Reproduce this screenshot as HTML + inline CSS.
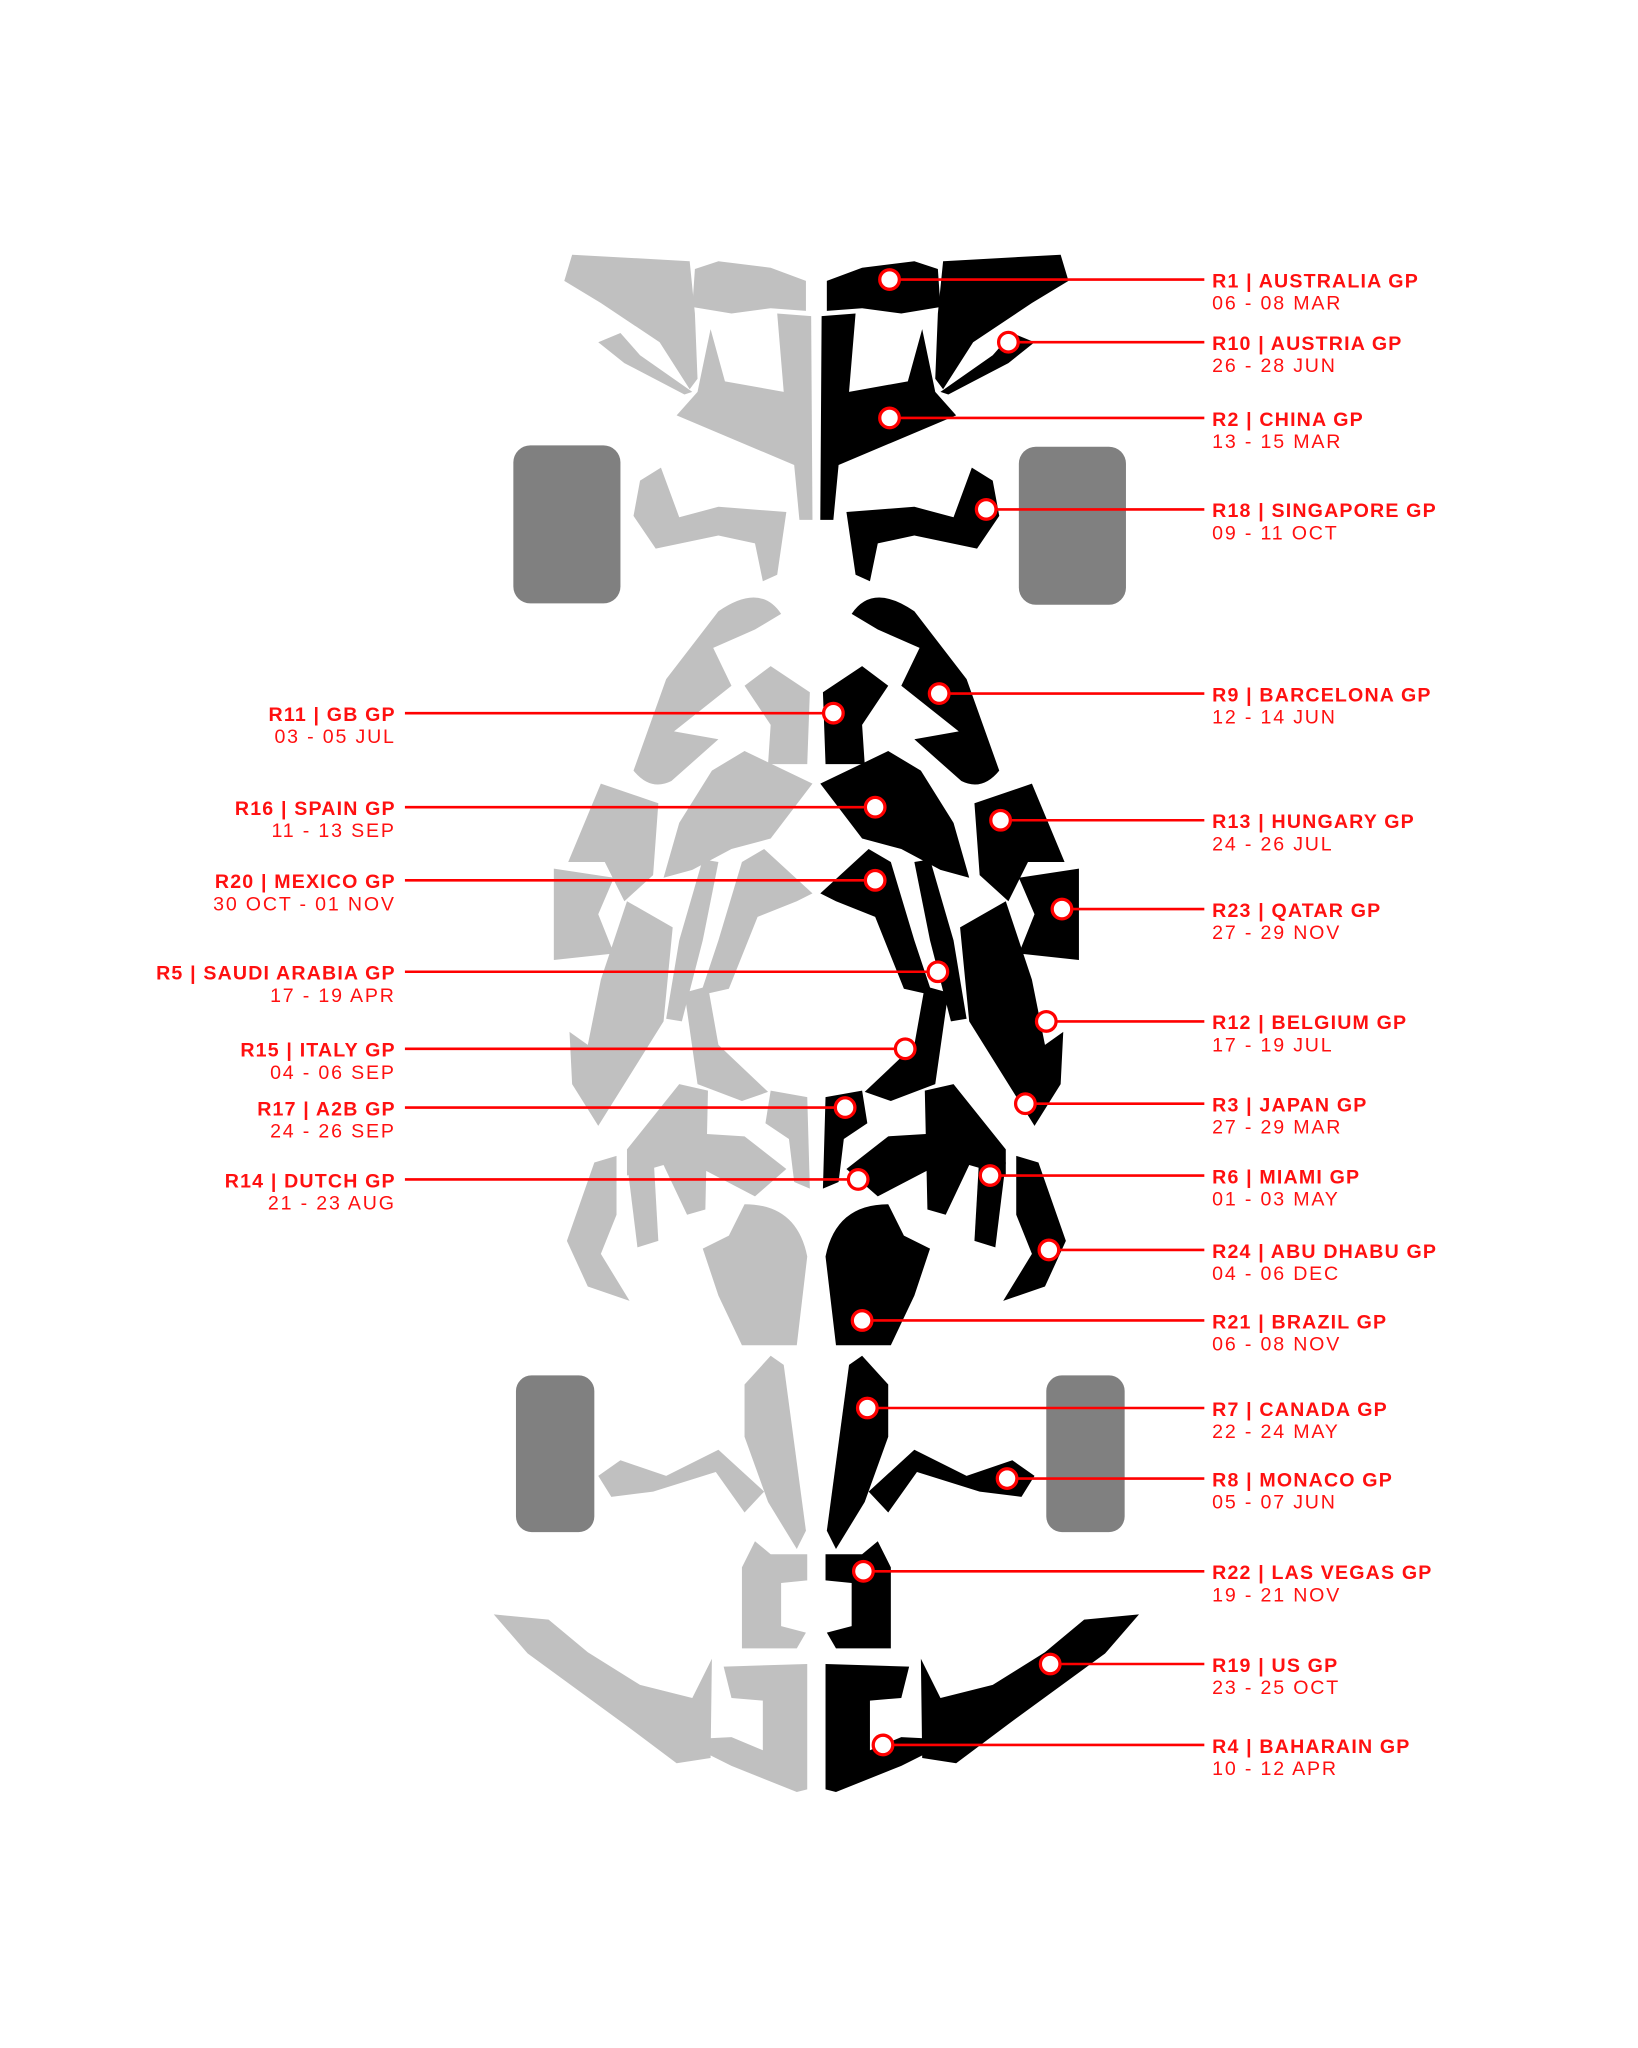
<!DOCTYPE html>
<html><head><meta charset="utf-8"><style>
html,body{margin:0;padding:0;background:#fff;}
svg{display:block;}
text{font-family:"Liberation Sans",sans-serif;fill:#ff1010;font-size:15px;letter-spacing:1.4px;}
.b{font-weight:bold;letter-spacing:0.9px;}
</style></head><body>
<svg width="1638" height="2048" viewBox="0 0 1254 1568" preserveAspectRatio="none" xmlns="http://www.w3.org/2000/svg">
<rect width="1254" height="1568" fill="#fff"/>
<g fill="#808080">
<rect x="393" y="341" width="82" height="121" rx="13"/>
<rect x="780" y="342" width="82" height="121" rx="13"/>
<rect x="395" y="1053" width="60" height="120" rx="12"/>
<rect x="801" y="1053" width="60" height="120" rx="12"/>
</g>
<defs>
<g id="car">
<path d="M633,215 L660,205 L700,200 L718,206 L720,235 L690,240 L660,236 L633,238 Z"/>
<path d="M722,200 L812,195 L818,215 L790,232 L745,262 L722,298 L716,290 L718,240 Z"/>
<path d="M720,300 L760,272 L775,255 L792,262 L772,278 L726,302 Z"/>
<path d="M629,242 L655,240 L650,300 L695,292 L706,252 L716,300 L732,318 L642,356 L638,398 L628,398 Z"/>
<path d="M648,392 L700,388 L730,396 L744,358 L760,368 L765,395 L748,420 L700,410 L672,416 L666,445 L655,440 Z"/>
<path d="M652,470 Q668,446 700,468 L740,520 L765,590 Q752,606 736,598 L700,566 L734,560 L690,525 L704,496 L672,482 Z"/>
<path d="M630,530 L660,510 L680,525 L660,555 L662,585 L632,585 Z"/>
<path d="M628,600 L680,575 L705,590 L730,630 L742,672 L720,666 L690,650 L660,642 Z"/>
<path d="M746,615 L790,600 L815,660 L787,660 L772,690 L750,670 Z"/>
<path d="M628,684 L665,650 L682,660 L700,720 L714,762 L692,757 L670,702 L640,690 Z"/>
<path d="M700,660 L712,658 L730,720 L740,780 L728,782 L712,720 Z"/>
<path d="M780,672 L826,665 L826,735 L780,730 L792,700 Z"/>
<path d="M735,710 L770,690 L790,750 L800,800 L814,790 L812,830 L792,862 L772,830 L742,782 Z"/>
<path d="M662,836 L700,800 L708,755 L726,760 L716,830 L682,843 Z"/>
<path d="M708,835 L730,830 L770,880 L770,900 L742,892 L724,930 L710,926 Z"/>
<path d="M632,840 L660,835 L664,860 L646,872 L642,905 L630,910 Z"/>
<path d="M648,895 L680,870 L712,868 L716,893 L672,916 Z"/>
<path d="M750,880 L770,890 L762,955 L746,950 Z"/>
<path d="M778,885 L795,890 L816,950 L800,985 L768,996 L790,960 L778,930 Z"/>
<path d="M632,962 Q640,922 680,922 L692,946 L712,956 L700,992 L682,1030 L640,1030 Z"/>
<path d="M650,1045 L660,1038 L680,1060 L680,1100 L662,1150 L640,1186 L633,1172 Z"/>
<path d="M665,1142 L700,1110 L740,1130 L775,1118 L792,1130 L782,1146 L750,1142 L702,1127 L680,1158 Z"/>
<path d="M632,1190 L660,1190 L672,1180 L682,1200 L682,1262 L640,1262 L633,1250 L652,1245 L652,1212 L632,1210 Z"/>
<path d="M632,1274 L696,1276 L690,1300 L666,1302 L666,1340 L690,1330 L730,1332 L690,1352 L640,1372 L632,1370 Z"/>
<path d="M705,1270 L720,1300 L760,1290 L800,1265 L830,1240 L872,1236 L846,1266 L772,1320 L732,1350 L706,1346 Z"/>
</g>
</defs>
<use href="#car" fill="#000"/>
<use href="#car" fill="#c0c0c0" transform="matrix(-1,0,0,1,1250,0)"/>
<g stroke="#ff0000" stroke-width="2">
<line x1="681" y1="214" x2="922" y2="214"/>
<line x1="772" y1="262" x2="922" y2="262"/>
<line x1="681" y1="320" x2="922" y2="320"/>
<line x1="755" y1="390" x2="922" y2="390"/>
<line x1="719" y1="531" x2="922" y2="531"/>
<line x1="766" y1="628" x2="922" y2="628"/>
<line x1="813" y1="696" x2="922" y2="696"/>
<line x1="801" y1="782" x2="922" y2="782"/>
<line x1="785" y1="845" x2="922" y2="845"/>
<line x1="758" y1="900" x2="922" y2="900"/>
<line x1="803" y1="957" x2="922" y2="957"/>
<line x1="660" y1="1011" x2="922" y2="1011"/>
<line x1="664" y1="1078" x2="922" y2="1078"/>
<line x1="771" y1="1132" x2="922" y2="1132"/>
<line x1="661" y1="1203" x2="922" y2="1203"/>
<line x1="804" y1="1274" x2="922" y2="1274"/>
<line x1="676" y1="1336" x2="922" y2="1336"/>
<line x1="310" y1="546" x2="638" y2="546"/>
<line x1="310" y1="618" x2="670" y2="618"/>
<line x1="310" y1="674" x2="670" y2="674"/>
<line x1="310" y1="744" x2="718" y2="744"/>
<line x1="310" y1="803" x2="693" y2="803"/>
<line x1="310" y1="848" x2="647" y2="848"/>
<line x1="310" y1="903" x2="657" y2="903"/>
</g>
<g fill="#fff" stroke="#ff0000" stroke-width="2.5">
<circle cx="681" cy="214" r="7.5"/><circle cx="772" cy="262" r="7.5"/><circle cx="681" cy="320" r="7.5"/>
<circle cx="755" cy="390" r="7.5"/><circle cx="719" cy="531" r="7.5"/><circle cx="766" cy="628" r="7.5"/>
<circle cx="813" cy="696" r="7.5"/><circle cx="801" cy="782" r="7.5"/><circle cx="785" cy="845" r="7.5"/>
<circle cx="758" cy="900" r="7.5"/><circle cx="803" cy="957" r="7.5"/><circle cx="660" cy="1011" r="7.5"/>
<circle cx="664" cy="1078" r="7.5"/><circle cx="771" cy="1132" r="7.5"/><circle cx="661" cy="1203" r="7.5"/>
<circle cx="804" cy="1274" r="7.5"/><circle cx="676" cy="1336" r="7.5"/>
<circle cx="638" cy="546" r="7.5"/><circle cx="670" cy="618" r="7.5"/><circle cx="670" cy="674" r="7.5"/>
<circle cx="718" cy="744" r="7.5"/><circle cx="693" cy="803" r="7.5"/><circle cx="647" cy="848" r="7.5"/>
<circle cx="657" cy="903" r="7.5"/>
</g>
<g>
<text class="b" x="928" y="220">R1 | AUSTRALIA GP</text><text x="928" y="237">06 - 08 MAR</text>
<text class="b" x="928" y="268">R10 | AUSTRIA GP</text><text x="928" y="285">26 - 28 JUN</text>
<text class="b" x="928" y="326">R2 | CHINA GP</text><text x="928" y="343">13 - 15 MAR</text>
<text class="b" x="928" y="396">R18 | SINGAPORE GP</text><text x="928" y="413">09 - 11 OCT</text>
<text class="b" x="928" y="537">R9 | BARCELONA GP</text><text x="928" y="554">12 - 14 JUN</text>
<text class="b" x="928" y="634">R13 | HUNGARY GP</text><text x="928" y="651">24 - 26 JUL</text>
<text class="b" x="928" y="702">R23 | QATAR GP</text><text x="928" y="719">27 - 29 NOV</text>
<text class="b" x="928" y="788">R12 | BELGIUM GP</text><text x="928" y="805">17 - 19 JUL</text>
<text class="b" x="928" y="851">R3 | JAPAN GP</text><text x="928" y="868">27 - 29 MAR</text>
<text class="b" x="928" y="906">R6 | MIAMI GP</text><text x="928" y="923">01 - 03 MAY</text>
<text class="b" x="928" y="963">R24 | ABU DHABU GP</text><text x="928" y="980">04 - 06 DEC</text>
<text class="b" x="928" y="1017">R21 | BRAZIL GP</text><text x="928" y="1034">06 - 08 NOV</text>
<text class="b" x="928" y="1084">R7 | CANADA GP</text><text x="928" y="1101">22 - 24 MAY</text>
<text class="b" x="928" y="1138">R8 | MONACO GP</text><text x="928" y="1155">05 - 07 JUN</text>
<text class="b" x="928" y="1209">R22 | LAS VEGAS GP</text><text x="928" y="1226">19 - 21 NOV</text>
<text class="b" x="928" y="1280">R19 | US GP</text><text x="928" y="1297">23 - 25 OCT</text>
<text class="b" x="928" y="1342">R4 | BAHARAIN GP</text><text x="928" y="1359">10 - 12 APR</text>
</g>
<g text-anchor="end">
<text class="b" x="303" y="552">R11 | GB GP</text><text x="303" y="569">03 - 05 JUL</text>
<text class="b" x="303" y="624">R16 | SPAIN GP</text><text x="303" y="641">11 - 13 SEP</text>
<text class="b" x="303" y="680">R20 | MEXICO GP</text><text x="303" y="697">30 OCT - 01 NOV</text>
<text class="b" x="303" y="750">R5 | SAUDI ARABIA GP</text><text x="303" y="767">17 - 19 APR</text>
<text class="b" x="303" y="809">R15 | ITALY GP</text><text x="303" y="826">04 - 06 SEP</text>
<text class="b" x="303" y="854">R17 | A2B GP</text><text x="303" y="871">24 - 26 SEP</text>
<text class="b" x="303" y="909">R14 | DUTCH GP</text><text x="303" y="926">21 - 23 AUG</text>
</g>
</svg>
</body></html>
